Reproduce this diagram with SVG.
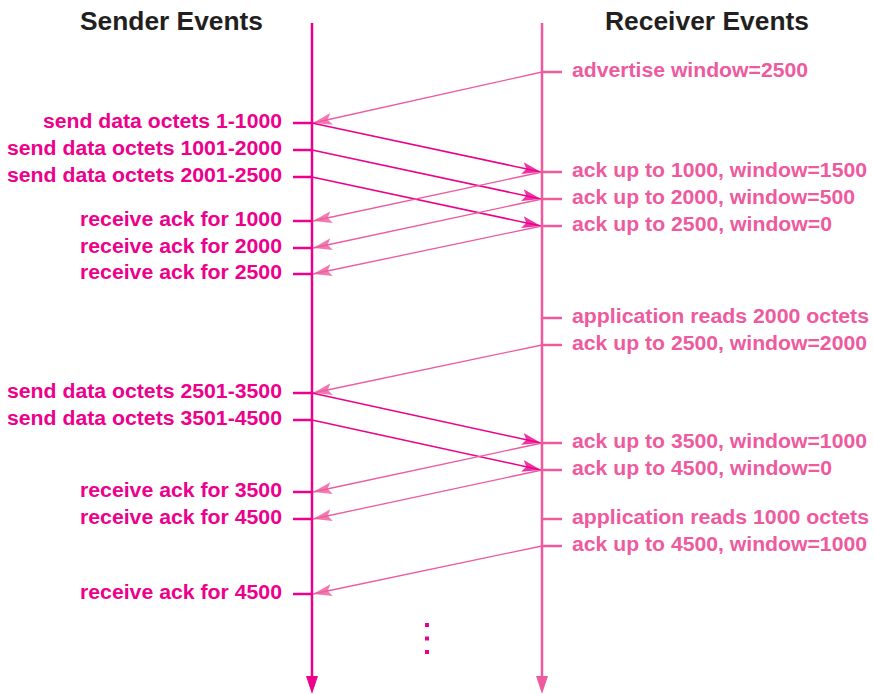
<svg xmlns="http://www.w3.org/2000/svg" width="873" height="694" viewBox="0 0 873 694">
<style>
.hdr{font-family:"Liberation Sans",Arial,sans-serif;font-weight:bold;font-size:25px;fill:#231F20}
.sl{font-family:"Liberation Sans",Arial,sans-serif;font-weight:bold;font-size:19.5px;fill:#EC008C;text-anchor:end}
.rl{font-family:"Liberation Sans",Arial,sans-serif;font-weight:bold;font-size:19.5px;fill:#EE5A9E}
.st{stroke:#EC008C;stroke-width:2.5;fill:none}
.rt{stroke:#EE5A9E;stroke-width:2.5;fill:none}
.sm{stroke:#EC008C;stroke-width:1.5;fill:none;marker-end:url(#ahS)}
.rm{stroke:#EE5A9E;stroke-width:1.3;fill:none;marker-end:url(#ahR)}
</style>
<defs>
<marker id="ahS" markerUnits="userSpaceOnUse" markerWidth="22" markerHeight="14" refX="19" refY="6" orient="auto">
<polygon points="0,0 19,6 0,12 4,6" fill="#EC008C" fill-opacity="0.8"/>
</marker>
<marker id="ahR" markerUnits="userSpaceOnUse" markerWidth="22" markerHeight="14" refX="19" refY="6" orient="auto">
<polygon points="0,0 19,6 0,12 4,6" fill="#EE5A9E" fill-opacity="0.8"/>
</marker>
</defs>
<rect width="873" height="694" fill="#fff"/>

<g id="headers">
<text class="hdr" x="80" y="30" textLength="183" lengthAdjust="spacingAndGlyphs">Sender Events</text>
<text class="hdr" x="605" y="30" textLength="204" lengthAdjust="spacingAndGlyphs">Receiver Events</text>
</g>

<g id="sender-timeline">
<line class="st" x1="312" y1="23" x2="312" y2="680"/>
<polygon points="306,676 318,676 312,694" fill="#EC008C"/>
</g>
<g id="receiver-timeline">
<line class="rt" x1="542" y1="23" x2="542" y2="680"/>
<polygon points="536,676 548,676 542,694" fill="#EE5A9E"/>
</g>

<g id="sender-events">
<g id="s1"><line class="st" x1="293" y1="123" x2="312" y2="123"/><text class="sl" x="282" y="128" textLength="239" lengthAdjust="spacingAndGlyphs">send data octets 1-1000</text></g>
<g id="s2"><line class="st" x1="293" y1="150" x2="312" y2="150"/><text class="sl" x="282" y="155" textLength="275" lengthAdjust="spacingAndGlyphs">send data octets 1001-2000</text></g>
<g id="s3"><line class="st" x1="293" y1="177" x2="312" y2="177"/><text class="sl" x="282" y="182" textLength="275" lengthAdjust="spacingAndGlyphs">send data octets 2001-2500</text></g>
<g id="s4"><line class="st" x1="293" y1="221" x2="312" y2="221"/><text class="sl" x="282" y="226" textLength="202" lengthAdjust="spacingAndGlyphs">receive ack for 1000</text></g>
<g id="s5"><line class="st" x1="293" y1="248" x2="312" y2="248"/><text class="sl" x="282" y="253" textLength="202" lengthAdjust="spacingAndGlyphs">receive ack for 2000</text></g>
<g id="s6"><line class="st" x1="293" y1="274" x2="312" y2="274"/><text class="sl" x="282" y="279" textLength="202" lengthAdjust="spacingAndGlyphs">receive ack for 2500</text></g>
<g id="s7"><line class="st" x1="293" y1="393" x2="312" y2="393"/><text class="sl" x="282" y="398" textLength="275" lengthAdjust="spacingAndGlyphs">send data octets 2501-3500</text></g>
<g id="s8"><line class="st" x1="293" y1="420" x2="312" y2="420"/><text class="sl" x="282" y="425" textLength="275" lengthAdjust="spacingAndGlyphs">send data octets 3501-4500</text></g>
<g id="s9"><line class="st" x1="293" y1="492" x2="312" y2="492"/><text class="sl" x="282" y="497" textLength="202" lengthAdjust="spacingAndGlyphs">receive ack for 3500</text></g>
<g id="s10"><line class="st" x1="293" y1="519" x2="312" y2="519"/><text class="sl" x="282" y="524" textLength="202" lengthAdjust="spacingAndGlyphs">receive ack for 4500</text></g>
<g id="s11"><line class="st" x1="293" y1="594" x2="312" y2="594"/><text class="sl" x="282" y="599" textLength="202" lengthAdjust="spacingAndGlyphs">receive ack for 4500</text></g>
</g>

<g id="receiver-events">
<g id="r1"><line class="rt" x1="542" y1="72" x2="562" y2="72"/><text class="rl" x="572" y="77" textLength="236" lengthAdjust="spacingAndGlyphs">advertise window=2500</text></g>
<g id="r2"><line class="rt" x1="542" y1="172" x2="562" y2="172"/><text class="rl" x="572" y="177" textLength="295" lengthAdjust="spacingAndGlyphs">ack up to 1000, window=1500</text></g>
<g id="r3"><line class="rt" x1="542" y1="199" x2="562" y2="199"/><text class="rl" x="572" y="204" textLength="283" lengthAdjust="spacingAndGlyphs">ack up to 2000, window=500</text></g>
<g id="r4"><line class="rt" x1="542" y1="226" x2="562" y2="226"/><text class="rl" x="572" y="231" textLength="260" lengthAdjust="spacingAndGlyphs">ack up to 2500, window=0</text></g>
<g id="r5"><line class="rt" x1="542" y1="318" x2="562" y2="318"/><text class="rl" x="572" y="323" textLength="297" lengthAdjust="spacingAndGlyphs">application reads 2000 octets</text></g>
<g id="r6"><line class="rt" x1="542" y1="345" x2="562" y2="345"/><text class="rl" x="572" y="350" textLength="295" lengthAdjust="spacingAndGlyphs">ack up to 2500, window=2000</text></g>
<g id="r7"><line class="rt" x1="542" y1="443" x2="562" y2="443"/><text class="rl" x="572" y="448" textLength="295" lengthAdjust="spacingAndGlyphs">ack up to 3500, window=1000</text></g>
<g id="r8"><line class="rt" x1="542" y1="470" x2="562" y2="470"/><text class="rl" x="572" y="475" textLength="260" lengthAdjust="spacingAndGlyphs">ack up to 4500, window=0</text></g>
<g id="r9"><line class="rt" x1="542" y1="519" x2="562" y2="519"/><text class="rl" x="572" y="524" textLength="297" lengthAdjust="spacingAndGlyphs">application reads 1000 octets</text></g>
<g id="r10"><line class="rt" x1="542" y1="546" x2="562" y2="546"/><text class="rl" x="572" y="551" textLength="295" lengthAdjust="spacingAndGlyphs">ack up to 4500, window=1000</text></g>
</g>

<g id="connectors">
<line class="rm" x1="542" y1="72" x2="313" y2="123"/>
<line class="sm" x1="312" y1="123" x2="541" y2="172"/>
<line class="sm" x1="312" y1="150" x2="541" y2="199"/>
<line class="sm" x1="312" y1="177" x2="541" y2="226"/>
<line class="rm" x1="542" y1="172" x2="313" y2="221"/>
<line class="rm" x1="542" y1="199" x2="313" y2="248"/>
<line class="rm" x1="542" y1="226" x2="313" y2="274"/>
<line class="rm" x1="542" y1="345" x2="313" y2="393"/>
<line class="sm" x1="312" y1="393" x2="541" y2="443"/>
<line class="sm" x1="312" y1="420" x2="541" y2="470"/>
<line class="rm" x1="542" y1="443" x2="313" y2="492"/>
<line class="rm" x1="542" y1="470" x2="313" y2="519"/>
<line class="rm" x1="542" y1="546" x2="313" y2="594"/>
</g>

<g id="ellipsis" fill="#EC008C">
<rect x="425" y="623" width="4" height="4"/>
<rect x="425" y="636.5" width="4" height="4"/>
<rect x="425" y="650" width="4" height="4"/>
</g>
</svg>
